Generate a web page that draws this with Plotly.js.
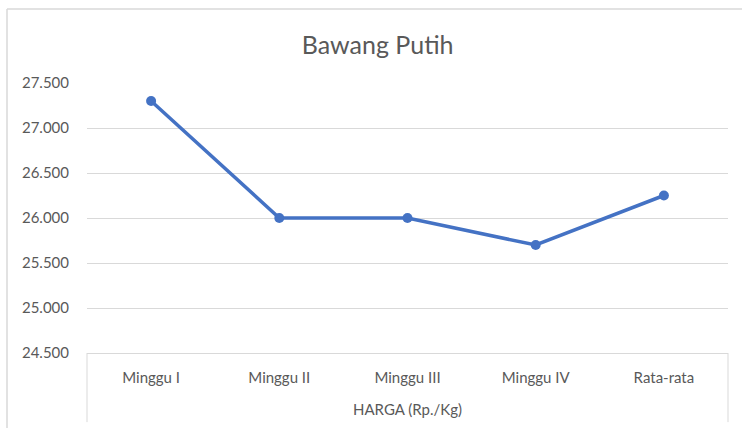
<!DOCTYPE html>
<html>
<head>
<meta charset="utf-8">
<script src="https://cdn.plot.ly/plotly-3.0.1.min.js"></script>
<style>
  body { margin: 0; background: #fff; }
  #chart { width: 742px; height: 428px; }
</style>
</head>
<body>
<div id="chart"></div>
<script>
var weeks = ["Minggu I", "Minggu II", "Minggu III", "Minggu IV", "Rata-rata"];
var harga = [27300, 26000, 26000, 25700, 26250];
var yTicks = [24500, 25000, 25500, 26000, 26500, 27000, 27500];
var yTickText = ["24.500", "25.000", "25.500", "26.000", "26.500", "27.000", "27.500"];

var trace = {
  x: weeks,
  y: harga,
  type: "scatter",
  mode: "lines+markers",
  line: {color: "#4472c4", width: 3.5},
  marker: {color: "#4472c4", size: 10},
  cliponaxis: false,
  hoverinfo: "x+y"
};

var grey = "#d9d9d9";
var layout = {
  width: 742,
  height: 428,
  margin: {l: 87, r: 14, t: 83, b: 75},
  paper_bgcolor: "#fff",
  plot_bgcolor: "#fff",
  font: {family: "Lato, 'Open Sans', sans-serif", color: "#595959", size: 15},
  title: {
    text: "Bawang Putih",
    font: {size: 25, color: "#595959"},
    x: 0.509, xanchor: "center",
    y: 0.895, yanchor: "middle"
  },
  showlegend: false,
  xaxis: {
    type: "category",
    range: [-0.5, 4.5],
    showgrid: false,
    zeroline: false,
    showline: true,
    linecolor: grey,
    linewidth: 1,
    ticks: "",
    ticklabelstandoff: 11,
    tickfont: {size: 15, color: "#595959"},
    title: {text: "HARGA (Rp./Kg)", font: {size: 15, color: "#595959"}, standoff: 19},
    fixedrange: true
  },
  yaxis: {
    range: [24500, 27500],
    tickvals: yTicks,
    ticktext: yTickText,
    showgrid: true,
    gridcolor: grey,
    gridwidth: 1,
    zeroline: false,
    showline: false,
    ticks: "",
    ticklabelstandoff: 17,
    tickfont: {size: 15, color: "#595959"},
    fixedrange: true
  },
  shapes: [
    {type: "line", xref: "paper", yref: "paper", x0: 0, x1: 0, y0: 0, y1: -0.256,
     line: {color: grey, width: 1}},
    {type: "line", xref: "paper", yref: "paper", x0: 1, x1: 1, y0: 0, y1: -0.256,
     line: {color: grey, width: 1}},
    {type: "line", xref: "paper", yref: "paper", x0: -0.1248, x1: -0.1248, y0: -0.3, y1: 1.274,
     line: {color: grey, width: 1.5}},
    {type: "line", xref: "paper", yref: "paper", x0: -0.1248, x1: 1.03, y0: 1.274, y1: 1.274,
     line: {color: grey, width: 1.5}}
  ]
};

Plotly.newPlot("chart", [trace], layout, {displayModeBar: false, staticPlot: true});
</script>
</body>
</html>
